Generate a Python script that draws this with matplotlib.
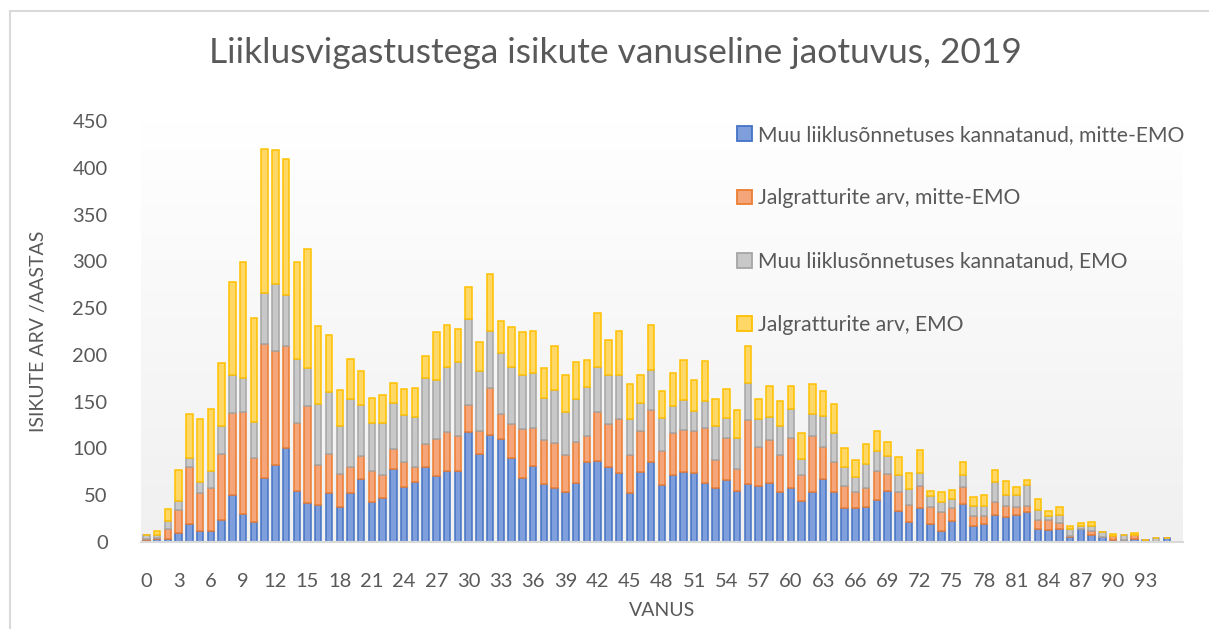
import numpy as np
import matplotlib
matplotlib.use("Agg")
import matplotlib.pyplot as plt
from matplotlib.colors import LinearSegmentedColormap
from matplotlib.patches import Patch

# vanus 0..96
ages = list(range(0, 97))

muu_mitte_emo = [2, 3, 3, 10, 19, 12, 12, 24, 50, 30, 21, 68, 82, 101, 55, 42, 40, 52, 37, 52,
                 67, 43, 47, 78, 59, 64, 80, 71, 76, 76, 118, 94, 114, 110, 90, 68, 81, 62, 58, 53,
                 63, 85, 87, 80, 74, 52, 75, 85, 61, 72, 75, 74, 63, 58, 66, 54, 62, 60, 63, 53,
                 58, 44, 53, 67, 53, 36, 36, 37, 45, 54, 33, 21, 36, 19, 12, 22, 41, 17, 19, 29,
                 27, 29, 32, 14, 13, 14, 5, 14, 7, 5, 2, 2, 3, 2, 0, 4, 0]
jalg_mitte_emo = [1, 1, 11, 24, 61, 40, 46, 70, 88, 109, 69, 144, 122, 109, 72, 103, 42, 42, 36, 28,
                  25, 33, 25, 21, 27, 16, 25, 39, 42, 37, 28, 25, 51, 27, 36, 53, 41, 47, 48, 40,
                  44, 28, 52, 46, 57, 41, 44, 56, 36, 45, 45, 45, 59, 30, 45, 24, 68, 42, 46, 40,
                  53, 28, 60, 35, 32, 24, 17, 21, 31, 19, 20, 19, 24, 18, 20, 14, 18, 11, 9, 14,
                  11, 8, 6, 10, 11, 6, 1, 0, 5, 0, 4, 0, 4, 0, 0, 0, 0]
muu_emo = [4, 3, 8, 10, 10, 12, 18, 30, 40, 36, 38, 54, 72, 54, 69, 41, 66, 66, 51, 73,
           54, 51, 55, 50, 50, 54, 70, 63, 69, 79, 92, 64, 61, 65, 61, 58, 59, 45, 57, 46,
           46, 53, 48, 53, 48, 39, 30, 43, 36, 28, 32, 21, 29, 36, 22, 33, 40, 29, 25, 31,
           31, 17, 24, 33, 32, 20, 16, 25, 21, 19, 19, 17, 14, 12, 11, 10, 13, 11, 11, 21,
           12, 13, 23, 10, 4, 9, 8, 3, 5, 6, 0, 5, 0, 0, 4, 0, 0]
jalg_emo = [0, 5, 13, 33, 47, 68, 66, 67, 100, 124, 111, 154, 143, 145, 103, 127, 83, 61, 38, 43,
            37, 27, 30, 21, 28, 31, 24, 51, 45, 36, 35, 31, 60, 34, 43, 45, 45, 32, 46, 39,
            39, 29, 58, 37, 47, 37, 30, 48, 28, 36, 43, 33, 42, 29, 31, 30, 40, 22, 33, 27,
            25, 28, 32, 26, 30, 20, 19, 22, 22, 15, 19, 17, 24, 5, 10, 10, 13, 9, 11, 13,
            15, 9, 5, 12, 5, 8, 3, 3, 4, 0, 3, 0, 3, 0, 0, 0, 0]

series = [
    ("Muu liiklusõnnetuses kannatanud, mitte-EMO", muu_mitte_emo, "#7f9fdc", "#4472c4"),
    ("Jalgratturite arv, mitte-EMO", jalg_mitte_emo, "#f4a67a", "#ed7d31"),
    ("Muu liiklusõnnetuses kannatanud, EMO", muu_emo, "#c8c8c8", "#a5a5a5"),
    ("Jalgratturite arv, EMO", jalg_emo, "#ffd766", "#ffc000"),
]

txt = "#595959"
plt.rcParams['font.family'] = ['Lato', 'DejaVu Sans']

fig = plt.figure(figsize=(12.09, 6.29), dpi=100)
ax = fig.add_axes([141 / 1209, 87 / 629, 1042 / 1209, 421 / 629])

# border of chart area (left + top)
fig.add_artist(plt.Line2D([10 / 1209, 10 / 1209], [0, 1 - 11 / 629], color="#d9d9d9", lw=1.5))
fig.add_artist(plt.Line2D([10 / 1209, 1], [1 - 11 / 629, 1 - 11 / 629], color="#d9d9d9", lw=1.5))

# gradient background of plot area
grad = np.linspace(0, 1, 256).reshape(-1, 1)
cmap = LinearSegmentedColormap.from_list("bg", ["#f0f0f0", "#ffffff"])
ax.imshow(grad, extent=[-0.5, 96.5, 0, 450], aspect="auto", cmap=cmap, origin="lower", zorder=0)

bottom = np.zeros(len(ages))
handles = []
for name, vals, face, edge in series:
    vals = np.array(vals, dtype=float)
    ax.bar(ages, vals, bottom=bottom, width=0.6, color=face, edgecolor=edge, linewidth=1.1, zorder=2)
    bottom += vals
    handles.append(Patch(facecolor=face, edgecolor=edge, linewidth=1.3, label=name))

ax.set_xlim(-0.5, 96.5)
ax.set_ylim(0, 450)
ax.set_yticks(range(0, 451, 50))
ax.set_xticks(range(0, 94, 3))
for s in ["top", "right", "left"]:
    ax.spines[s].set_visible(False)
ax.spines["bottom"].set_color("#d9d9d9")
ax.spines["bottom"].set_linewidth(1.5)
ax.tick_params(axis="both", length=0, labelsize=14.5, colors=txt)
ax.tick_params(axis="y", pad=24)
ax.tick_params(axis="x", pad=22)

ax.set_xlabel("VANUS", fontsize=14, color=txt, labelpad=9)
ax.set_ylabel("ISIKUTE ARV /AASTAS", fontsize=14, color=txt, labelpad=18)

fig.text(615 / 1209, 1 - 53 / 629, "Liiklusvigastustega isikute vanuseline jaotuvus, 2019",
         ha="center", va="center", fontsize=25.5, color=txt)

ax.legend(handles=handles, loc="upper left", bbox_to_anchor=(718 / 1209, 1 - 106 / 629),
          bbox_transform=fig.transFigure, frameon=False, fontsize=15.2, labelcolor=txt,
          handlelength=0.7, handleheight=0.7, handletextpad=0.3, labelspacing=2.05)

fig.savefig("out.png", dpi=100)
